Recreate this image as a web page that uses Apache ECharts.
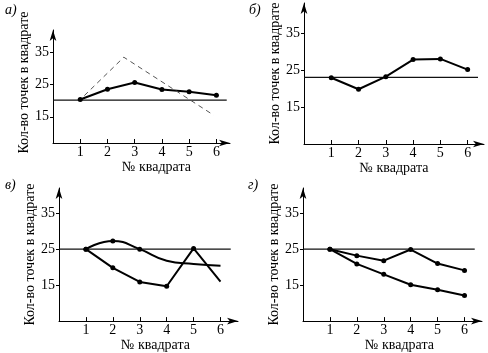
<!DOCTYPE html>
<html lang="ru">
<head>
<meta charset="utf-8">
<title>Кол-во точек в квадрате</title>
<script src="https://cdn.jsdelivr.net/npm/echarts@6/dist/echarts.min.js"></script>
<style>
    html, body { margin: 0; padding: 0; background: #fff; }
    #main { width: 488px; height: 353px; }
</style>
</head>
<body>
<div id="main"></div>
<script type="text/javascript">
// данные
var xTicks = [1, 2, 3, 4, 5, 6];
var yTicks = [15, 25, 35];
var panelNames = ['а)', 'б)', 'в)', 'г)'];

// а)
var aSolid = [20.4, 23.6, 25.7, 23.5, 22.8, 21.7];
var aDashX = [1.15, 2.6, 5.9];
var aDashY = [21.6, 33.6, 15.5];
var aLevel = 20.2;
// б)
var bSolid = [22.9, 19.8, 23.2, 27.8, 28.0, 25.1];
var bLevel = 23.0;
// в)
var vZigzag = [25, 19.8, 15.9, 14.7, 25.2, 16];
var vCurve = [25, 27.3, 25, 21.8, 20.9, 20.4];
var vLevel = 25;
// г)
var gUpper = [25, 23.2, 21.8, 24.9, 21.0, 19.1];
var gLower = [25, 20.9, 18.0, 15.1, 13.7, 12.1];
var gLevel = 25;

var levelEnd = 6.38;
var font = 'Liberation Serif';

var grids = [
    {left: 53, top: 30, width: 177, height: 113},
    {left: 304, top: 3, width: 180, height: 141},
    {left: 59, top: 188, width: 179, height: 136},
    {left: 303, top: 188, width: 179, height: 136}
];
var yRange = [[6.8, 42.1], [5, 43.1], [5, 42], [5, 42]];
var xMax = [6.5, 6.6, 6.65, 6.65];
var xNamePad = [30, 0, 14, 14];
var xNameGap = [13, 13, 15, 15];
var yNamePad = [8, 0, 0, 0];

function pairs(xs, ys) {
    var out = [];
    for (var i = 0; i < xs.length; i++) out.push([xs[i], ys[i]]);
    return out;
}

var xAxes = [], yAxes = [], series = [];
for (var i = 0; i < 4; i++) {
    xAxes.push({
        gridIndex: i, type: 'value', min: 0, max: xMax[i],
        name: '№ квадрата', nameLocation: 'middle', nameGap: xNameGap[i],
        nameTextStyle: {fontFamily: font, fontSize: 14, color: '#000', padding: [0, 0, 0, xNamePad[i]]},
        axisLine: {lineStyle: {color: '#000', width: 1}, symbol: ['none', 'arrow'], symbolSize: [5, 11]},
        axisTick: {show: true, inside: true, length: 4, customValues: xTicks, lineStyle: {color: '#000'}},
        axisLabel: {customValues: xTicks, margin: 2, fontFamily: font, fontSize: 14, color: '#000'},
        splitLine: {show: false}
    });
    yAxes.push({
        gridIndex: i, type: 'value', min: yRange[i][0], max: yRange[i][1],
        name: 'Кол-во точек в квадрате', nameLocation: 'middle', nameGap: 21, nameRotate: 90,
        nameTextStyle: {fontFamily: font, fontSize: 14, color: '#000', padding: [0, 0, 0, yNamePad[i]]},
        axisLine: {show: true, lineStyle: {color: '#000', width: 1}, symbol: ['none', 'arrow'], symbolSize: [5, 11]},
        axisTick: {show: true, length: 3, customValues: yTicks, lineStyle: {color: '#000'}},
        axisLabel: {customValues: yTicks, margin: 4, fontFamily: font, fontSize: 14, color: '#000'},
        splitLine: {show: false}
    });
}

function dataLine(idx, values, dotted, smooth) {
    var data = [];
    for (var k = 0; k < values.length; k++) {
        var p = {value: [xTicks[k], values[k]]};
        if (dotted && dotted.indexOf(k) < 0) p.symbol = 'none';
        data.push(p);
    }
    return {
        type: 'line', xAxisIndex: idx, yAxisIndex: idx, data: data,
        smooth: smooth || false, symbol: 'circle', symbolSize: 5,
        lineStyle: {color: '#000', width: 2}, itemStyle: {color: '#000'},
        silent: true, animation: false, z: 3
    };
}
function levelLine(idx, v) {
    return {
        type: 'line', xAxisIndex: idx, yAxisIndex: idx,
        data: [[0, v], [levelEnd, v]], symbol: 'none',
        lineStyle: {color: '#111', width: 1.2}, silent: true, animation: false, z: 2
    };
}

series.push(levelLine(0, aLevel));
series.push(dataLine(0, aSolid));
series.push({
    type: 'line', xAxisIndex: 0, yAxisIndex: 0, data: pairs(aDashX, aDashY), symbol: 'none',
    lineStyle: {color: '#555', width: 1, type: [5, 4]}, silent: true, animation: false
});
series.push(levelLine(1, bLevel));
series.push(dataLine(1, bSolid));
series.push(levelLine(2, vLevel));
series.push(dataLine(2, vZigzag, [0, 1, 2, 3, 4]));
series.push(dataLine(2, vCurve, [0, 1, 2], 0.5));
series.push(levelLine(3, gLevel));
series.push(dataLine(3, gUpper));
series.push(dataLine(3, gLower));

var labelPos = [[5, 3], [249, 3], [5, 178], [248, 178]];
var graphics = [];
for (var j = 0; j < 4; j++) {
    graphics.push({
        type: 'text', left: labelPos[j][0], top: labelPos[j][1],
        style: {text: panelNames[j], font: 'italic 14px "Liberation Serif"', fill: '#000'}
    });
}

var myChart = echarts.init(document.getElementById('main'));
myChart.setOption({
    animation: false,
    grid: grids,
    xAxis: xAxes,
    yAxis: yAxes,
    series: series,
    graphic: graphics
});
</script>
</body>
</html>
